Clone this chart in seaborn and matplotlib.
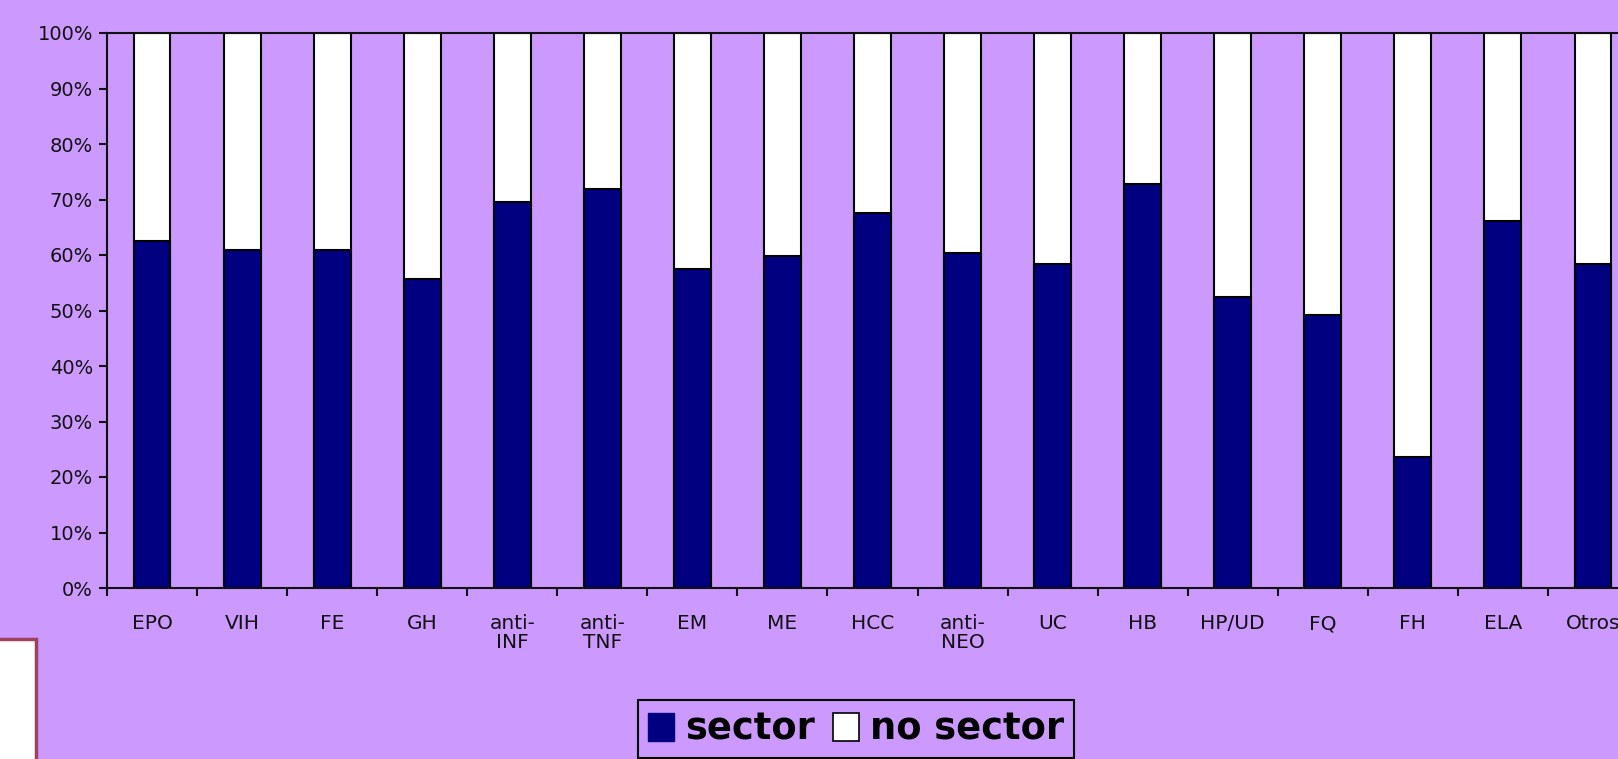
import matplotlib
matplotlib.use("Agg")
import matplotlib.pyplot as plt
from matplotlib.patches import Patch, Rectangle
import seaborn as sns
import pandas as pd

categories = ["EPO", "VIH", "FE", "GH", "anti-\nINF", "anti-\nTNF", "EM", "ME", "HCC",
              "anti-\nNEO", "UC", "HB", "HP/UD", "FQ", "FH", "ELA", "Otros"]
sector = [62.6, 60.9, 60.9, 55.7, 69.5, 71.9, 57.4, 59.8, 67.6,
          60.3, 58.3, 72.8, 52.5, 49.2, 23.6, 66.1, 58.3]
no_sector = [100 - v for v in sector]
y_ticks = [0, 10, 20, 30, 40, 50, 60, 70, 80, 90, 100]
y_tick_labels = [f"{t}%" for t in y_ticks]
legend_labels = ["sector", "no sector"]

BG = "#cc99ff"
NAVY = "#000080"

sns.set_theme(style="white")
plt.rcParams["font.family"] = ["DejaVu Sans"]

df = pd.DataFrame({"cat": categories, "sector": sector,
                   "total": [s + n for s, n in zip(sector, no_sector)]})

fig = plt.figure(figsize=(16.18, 7.59), dpi=100, facecolor=BG)
ax = fig.add_axes([107 / 1618, 171 / 759, 1531 / 1618, 555 / 759])
ax.set_facecolor(BG)

sns.barplot(data=df, x="cat", y="total", color="white", edgecolor="black",
            linewidth=1.5, width=0.41, saturation=1, ax=ax)
sns.barplot(data=df, x="cat", y="sector", color=NAVY, edgecolor="black",
            linewidth=1.5, width=0.41, saturation=1, ax=ax)

ax.set_xlim(-0.5, len(categories) - 0.5)
ax.set_ylim(0, 100)
ax.set_xlabel("")
ax.set_ylabel("")

ax.set_yticks(y_ticks)
ax.set_yticklabels(y_tick_labels, fontsize=14, color="#111111")
ax.set_xticks([i - 0.5 for i in range(len(categories) + 1)])
ax.set_xticklabels([])
ax.set_xticks(range(len(categories)), minor=True)
ax.set_xticklabels(categories, minor=True, fontsize=14.5, color="#111111",
                   linespacing=1.0)
ax.tick_params(axis="x", which="minor", length=0, pad=19)
ax.tick_params(axis="x", which="major", length=6, width=1.5, color="#111111",
               direction="out", bottom=True)
ax.tick_params(axis="y", length=6, width=1.5, color="#111111", direction="out",
               left=True, pad=4)

for side in ["left", "bottom", "top"]:
    ax.spines[side].set_visible(True)
    ax.spines[side].set_color("#111111")
    ax.spines[side].set_linewidth(1.5)
ax.spines["right"].set_visible(False)

handles = [Patch(facecolor=NAVY, edgecolor=NAVY),
           Patch(facecolor="white", edgecolor="black", linewidth=1.2)]
leg = fig.legend(handles, legend_labels, loc="center", ncol=2,
                 bbox_to_anchor=(856 / 1618, 30 / 759),
                 prop={"weight": "heavy", "size": 26.5},
                 labelcolor="black",
                 frameon=True, fancybox=False, edgecolor="black",
                 facecolor=BG, framealpha=1,
                 handlelength=0.7, handleheight=0.8, handletextpad=0.3,
                 columnspacing=0.5, borderpad=0.28)
leg.get_frame().set_linewidth(1.5)

fig.patches.append(Rectangle((-0.01, -0.01), 36 / 1618 + 0.01, 120 / 759 + 0.01,
                             transform=fig.transFigure, facecolor="white",
                             edgecolor="#a04060", linewidth=2.5))

fig.savefig("out.png", dpi=100, facecolor=BG)
